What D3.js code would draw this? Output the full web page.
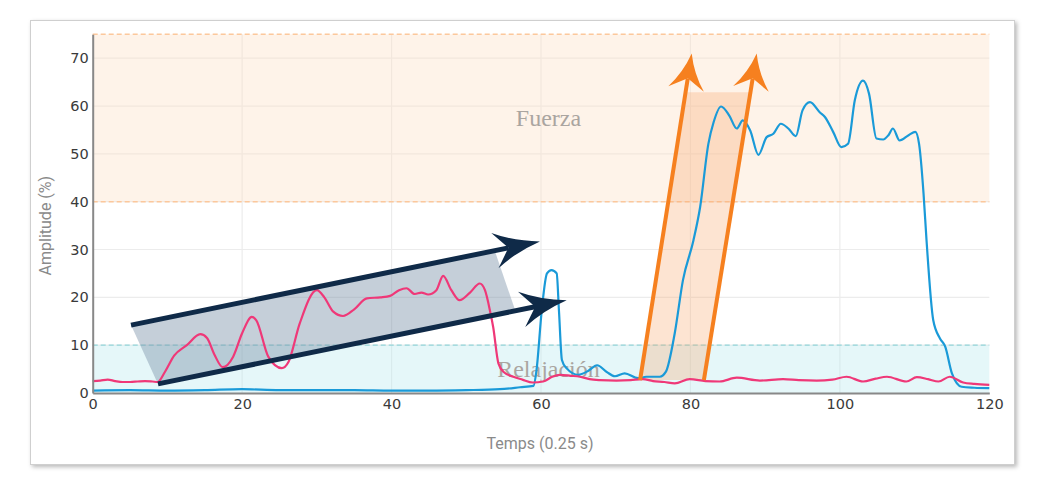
<!DOCTYPE html>
<html>
<head>
<meta charset="utf-8">
<script src="https://cdn.jsdelivr.net/npm/d3@7"></script>
<style>
  body { margin: 0; background: #fff; }
  svg { display: block; }
</style>
</head>
<body>
<div id="chart"></div>
<script>
// Signal values (time unit = 0.25 s)
const pinkTime = [0, 1, 2, 3, 4, 5, 6, 7, 8, 8.7, 9.7, 10.9, 12.6, 14.4, 15.3, 16.3, 17.4, 18.8, 20, 21.3, 21.9, 23.5, 25.3, 26.2, 27.7, 30, 31, 32.2, 33.5, 35, 36.7, 38.5, 39.8, 41, 42, 43.1, 44, 44.9, 46, 46.9, 48, 49.1, 50.5, 51.8, 52.5, 53.2, 53.6, 54.3, 55, 56.3, 57.5, 58.9, 60.3, 61.5, 62.5, 64, 65.2, 66.5, 67.9, 70.1, 72, 73.6, 75, 76.5, 77.9, 79.9, 82, 83.9, 86.2, 89.3, 92.4, 94.5, 96.9, 99, 100.9, 103.1, 104.8, 106.3, 108.9, 110.3, 111.8, 113.2, 114.7, 116.5, 118, 120];
const pinkAmp = [2.5, 2.6, 2.8, 2.5, 2.3, 2.3, 2.4, 2.5, 2.4, 2.3, 4.5, 7.8, 10, 12.3, 11.5, 8, 5.4, 7.6, 12.5, 15.9, 15.2, 7.6, 5.2, 6.5, 14.5, 21.5, 20, 17, 16.1, 17.5, 19.8, 20, 20.3, 21.5, 21.9, 20.7, 21, 20.6, 21.5, 24.5, 21.5, 19.4, 21, 22.9, 21.5, 17, 13.8, 6.2, 4.4, 3.4, 2.8, 2.2, 2.4, 3.4, 3.8, 3.6, 3.4, 2.9, 2.7, 2.6, 2.7, 2.9, 2.5, 2.3, 2.0, 2.9, 2.5, 2.4, 3.2, 2.6, 2.9, 2.7, 2.6, 2.8, 3.4, 2.4, 3.0, 3.4, 2.4, 3.3, 2.9, 2.4, 3.4, 2.2, 1.9, 1.7];

const blueTime = [0, 5, 10, 15, 20, 25, 30, 35, 40, 45, 50, 54.5, 57.2, 59, 59.4, 60.1, 60.8, 61.4, 62.1, 62.4, 62.8, 63.4, 65, 66.3, 67.5, 68.8, 69.9, 71.2, 73, 74.1, 75.9, 76.7, 77.9, 79, 80.4, 81.3, 82.4, 83.1, 84.1, 85.2, 86.2, 87, 88, 89.1, 90.2, 91.1, 92.1, 93.1, 94.1, 95, 96, 97.3, 98, 99.1, 100.2, 101.1, 102, 103.1, 103.9, 104.9, 105.8, 106.5, 107.1, 108, 109.2, 110.1, 110.6, 111.2, 111.6, 112.5, 113.4, 114.1, 115, 116.3, 118, 120];
const blueAmp = [0.5, 0.6, 0.5, 0.6, 0.8, 0.6, 0.6, 0.6, 0.5, 0.5, 0.6, 0.8, 1.2, 1.5, 4.8, 17.3, 25, 25.7, 25, 17.3, 6.9, 5.2, 3.8, 4.6, 5.8, 4.4, 3.5, 4.1, 3.1, 3.4, 3.4, 4.4, 12.5, 23.6, 31.9, 38.9, 52.1, 56.6, 59.9, 58, 55.3, 57, 54.9, 49.8, 53.5, 54.2, 56.3, 55.3, 53.7, 59.1, 60.8, 58.7, 57.7, 54.6, 51.4, 52.1, 61.2, 65.3, 62.6, 53.2, 53, 53.9, 55.3, 52.8, 53.9, 54.6, 52.1, 41.7, 31.9, 15.2, 11.4, 9.7, 4.1, 1.3, 1.1, 1.0];

const xTicks = [0, 20, 40, 60, 80, 100, 120];
const yTicks = [0, 10, 20, 30, 40, 50, 60, 70];

// Zones (amplitude %)
const zoneNames = ["Relajación", "Fuerza"];
const zoneLow = [0, 40];
const zoneHigh = [10, 75];

// Annotation shapes in data units [time, amplitude]
const navyArrows = [
  [[8.74, 1.9], [63.44, 19.4]],
  [[5.13, 14.2], [59.86, 31.7]]
];
const navyBand = [[5.13, 14.2], [53.8, 29.8], [56.5, 17.5], [8.74, 1.9]];
const orangeArrows = [
  [[73.26, 2.7], [80.17, 71.0]],
  [[81.8, 2.7], [88.87, 71.0]]
];
const orangeBand = [[73.26, 2.7], [79.35, 62.9], [88.02, 62.9], [81.8, 2.7]];

const W = 1043, H = 494;
const plot = { left: 92.7, right: 989.3, top: 34.3, bottom: 393 };

const svg = d3.select("#chart").append("svg")
  .attr("width", W)
  .attr("height", H);

const defs = svg.append("defs");
const shadow = defs.append("filter").attr("id", "shadow")
  .attr("x", "-5%").attr("y", "-5%").attr("width", "110%").attr("height", "112%");
shadow.append("feDropShadow")
  .attr("dx", 2).attr("dy", 2).attr("stdDeviation", 2)
  .attr("flood-color", "#000").attr("flood-opacity", 0.28);

// card
svg.append("rect")
  .attr("x", 30.5).attr("y", 20.5)
  .attr("width", 984).attr("height", 444)
  .attr("fill", "#fff")
  .attr("stroke", "#cfcfcf")
  .attr("filter", "url(#shadow)");

const x = d3.scaleLinear().domain([0, 120]).range([plot.left, plot.right]);
const y = d3.scaleLinear().domain([0, 75]).range([plot.bottom, plot.top]);

// gridlines
const grid = svg.append("g");
grid.selectAll(".hg")
  .data(yTicks.filter((d) => d > 0))
  .enter()
  .append("line")
  .attr("x1", plot.left).attr("x2", plot.right)
  .attr("y1", (d) => y(d)).attr("y2", (d) => y(d))
  .attr("stroke", "#ececec").attr("stroke-width", 1.2);
grid.selectAll(".vg")
  .data(xTicks.filter((d) => d > 0 && d < 120))
  .enter()
  .append("line")
  .attr("y1", plot.top).attr("y2", plot.bottom)
  .attr("x1", (d) => x(d)).attr("x2", (d) => x(d))
  .attr("stroke", "#ececec").attr("stroke-width", 1.2);

// zones
const zoneFill = ["rgba(190,235,240,0.4)", "rgba(253,226,200,0.4)"];
const zoneLine = ["#92d5d9", "#fcc89c"];
zoneNames.forEach((name, i) => {
  svg.append("rect")
    .attr("x", plot.left)
    .attr("y", y(zoneHigh[i]))
    .attr("width", plot.right - plot.left)
    .attr("height", y(zoneLow[i]) - y(zoneHigh[i]))
    .attr("fill", zoneFill[i]);
  const edges = zoneLow[i] > 0 ? [zoneLow[i], zoneHigh[i]] : [zoneHigh[i]];
  edges.forEach((v) => {
    svg.append("line")
      .attr("x1", plot.left).attr("x2", plot.right)
      .attr("y1", y(v)).attr("y2", y(v))
      .attr("stroke", zoneLine[i])
      .attr("stroke-width", 1.4)
      .attr("stroke-dasharray", "5,3");
  });
  svg.append("text")
    .attr("x", x(61))
    .attr("y", y(i === 0 ? 5 : (zoneLow[i] + zoneHigh[i]) / 2))
    .attr("dy", "0.35em")
    .attr("text-anchor", "middle")
    .style("font-family", "'Liberation Serif', 'DejaVu Serif', serif")
    .style("font-size", "24px")
    .attr("fill", "#aaa5a0")
    .text(name);
});

const toPx = (p) => [x(p[0]), y(p[1])];
const polyLine = d3.line();

// annotation fills
svg.append("path")
  .attr("d", polyLine(navyBand.map(toPx)) + "Z")
  .attr("fill", "#7f95aa")
  .attr("fill-opacity", 0.45);
svg.append("path")
  .attr("d", polyLine(orangeBand.map(toPx)) + "Z")
  .attr("fill", "#f7a76a")
  .attr("fill-opacity", 0.3);

// signals
const line = d3.line()
  .x((d) => x(d[0]))
  .y((d) => y(d[1]))
  .curve(d3.curveMonotoneX);

svg.append("path")
  .datum(blueTime.map((t, i) => [t, blueAmp[i]]))
  .attr("d", line)
  .attr("fill", "none")
  .attr("stroke", "#1a9ad8")
  .attr("stroke-width", 2.2);

svg.append("path")
  .datum(pinkTime.map((t, i) => [t, pinkAmp[i]]))
  .attr("d", line)
  .attr("fill", "none")
  .attr("stroke", "#ef3878")
  .attr("stroke-width", 2.2);

// stealth arrow: shaft + curved head
function drawArrow(from, to, color, width, len, half) {
  const [x0, y0] = toPx(from);
  const [x1, y1] = toPx(to);
  const dx = x1 - x0, dy = y1 - y0;
  const n = Math.hypot(dx, dy);
  const ux = dx / n, uy = dy / n;
  const nx = -uy, ny = ux;
  const bx = x1 - ux * len, by = y1 - uy * len;
  const notchX = x1 - ux * len * 0.7, notchY = y1 - uy * len * 0.7;
  svg.append("line")
    .attr("x1", x0).attr("y1", y0)
    .attr("x2", notchX).attr("y2", notchY)
    .attr("stroke", color)
    .attr("stroke-width", width);
  const c1 = [x1 - ux * len * 0.55 + nx * half * 0.3, y1 - uy * len * 0.55 + ny * half * 0.3];
  const c2 = [x1 - ux * len * 0.55 - nx * half * 0.3, y1 - uy * len * 0.55 - ny * half * 0.3];
  const p = d3.path();
  p.moveTo(x1, y1);
  p.quadraticCurveTo(c1[0], c1[1], bx + nx * half, by + ny * half);
  p.lineTo(notchX, notchY);
  p.lineTo(bx - nx * half, by - ny * half);
  p.quadraticCurveTo(c2[0], c2[1], x1, y1);
  p.closePath();
  svg.append("path").attr("d", p.toString()).attr("fill", color);
}

navyArrows.forEach((a) => drawArrow(a[0], a[1], "#0f2a48", 5, 46, 18));
orangeArrows.forEach((a) => drawArrow(a[0], a[1], "#f6801f", 4, 36, 18));

// axes
const yAxis = svg.append("g")
  .attr("transform", `translate(${plot.left},0)`)
  .call(d3.axisLeft(y).tickValues(yTicks).tickSize(0).tickPadding(4));
yAxis.select(".domain").attr("stroke", "#888").attr("stroke-width", 2);

const xAxis = svg.append("g")
  .attr("transform", `translate(0,${plot.bottom})`)
  .call(d3.axisBottom(x).tickValues(xTicks).tickSize(0).tickPadding(6));
xAxis.select(".domain").attr("stroke", "#888").attr("stroke-width", 2);

svg.selectAll(".tick text")
  .style("font-family", "'DejaVu Sans', sans-serif")
  .style("font-size", "14.5px")
  .attr("fill", "#3a3a3a");

// axis titles
svg.append("text")
  .attr("transform", `translate(51,${(plot.top + plot.bottom) / 2 + 12}) rotate(-90)`)
  .attr("text-anchor", "middle")
  .style("font-family", "Roboto, sans-serif")
  .style("font-size", "16px")
  .attr("fill", "#8a8a8a")
  .text("Amplitude (%)");

svg.append("text")
  .attr("x", 540)
  .attr("y", 449)
  .attr("text-anchor", "middle")
  .style("font-family", "Roboto, sans-serif")
  .style("font-size", "16px")
  .attr("fill", "#8a8a8a")
  .text("Temps (0.25 s)");
</script>
</body>
</html>
